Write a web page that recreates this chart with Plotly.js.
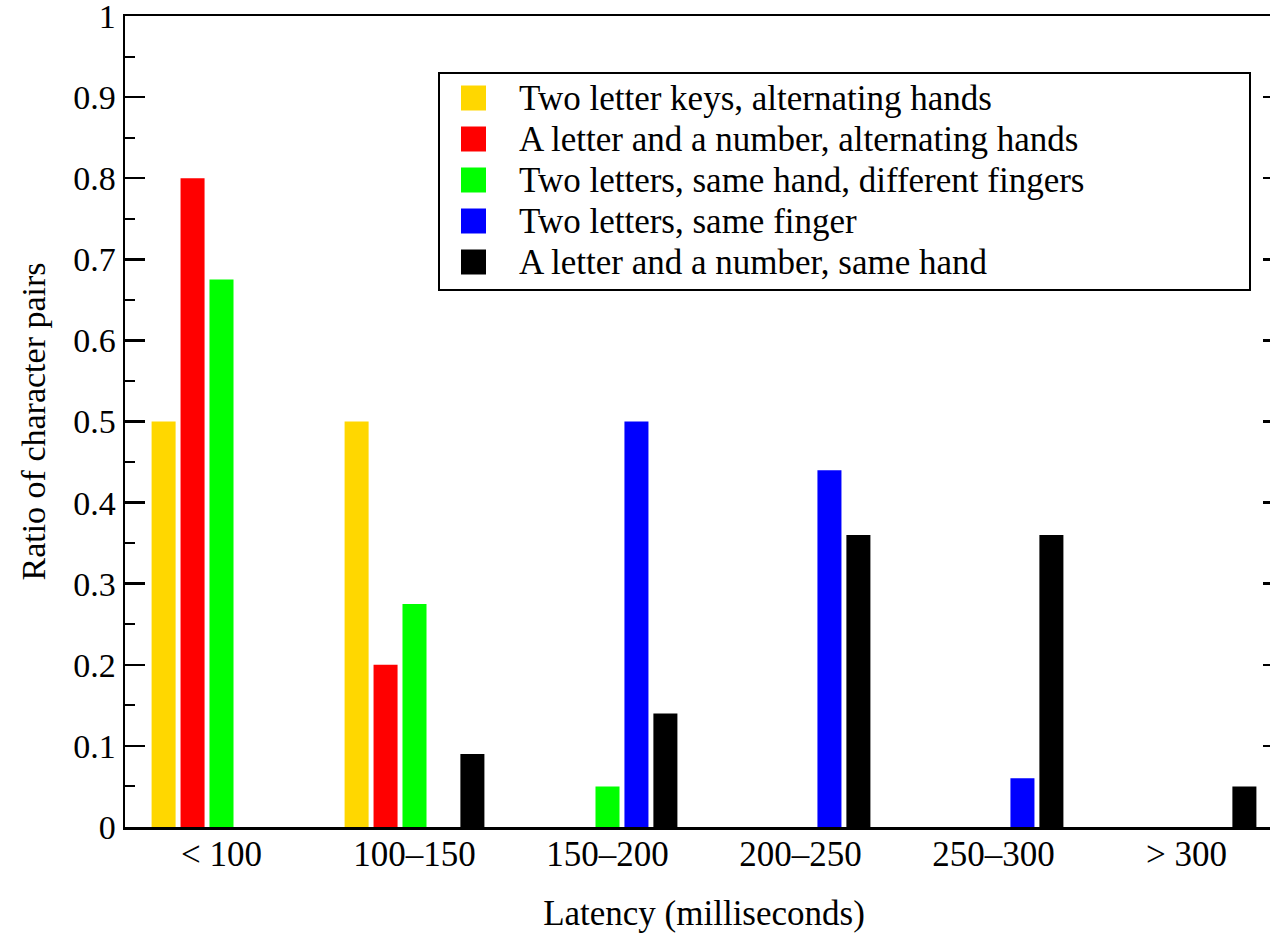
<!DOCTYPE html>
<html><head><meta charset="utf-8">
<script src="https://cdn.plot.ly/plotly-3.0.1.min.js"></script>
<style>html,body{margin:0;padding:0;overflow:hidden;background:#fff;}</style>
</head><body>
<div id="chart"></div>
<script>
const categories = ['< 100', '100–150', '150–200', '200–250', '250–300', '> 300'];
const seriesNames = [
  'Two letter keys, alternating hands',
  'A letter and a number, alternating hands',
  'Two letters, same hand, different fingers',
  'Two letters, same finger',
  'A letter and a number, same hand'
];
const seriesColors = ['#ffd700', '#ff0000', '#00ff00', '#0000ff', '#000000'];
const twoLetterAlt = [0.5, 0.5, 0, 0, 0, 0];
const letterNumberAlt = [0.8, 0.2, 0, 0, 0, 0];
const sameHandDiffFinger = [0.675, 0.275, 0.05, 0, 0, 0];
const sameFinger = [0, 0, 0.5, 0.44, 0.06, 0];
const letterNumberSameHand = [0, 0.09, 0.14, 0.36, 0.36, 0.05];
const seriesValues = [twoLetterAlt, letterNumberAlt, sameHandDiffFinger, sameFinger, letterNumberSameHand];
const yTickVals = [0, 0.1, 0.2, 0.3, 0.4, 0.5, 0.6, 0.7, 0.8, 0.9, 1];

const font = '"Liberation Serif", "Times New Roman", serif';
const W = 1290, H = 937;
const L = 125, R = 1283, T = 16, B = 827;

const traces = seriesValues.map((vals, i) => ({
  type: 'bar', x: categories, y: vals, name: seriesNames[i],
  marker: {color: seriesColors[i], line: {width: 0}},
  showlegend: false
}));

// manual legend (paper coordinates)
const px = x => (x - L) / (R - L);
const py = y => (B - y) / (B - T);
const shapes = [{
  type: 'rect', xref: 'paper', yref: 'paper',
  x0: px(439), x1: px(1250), y0: py(290), y1: py(73),
  line: {color: '#000', width: 2}, fillcolor: '#fff', layer: 'above'
}];
const annotations = [];
seriesNames.forEach((n, i) => {
  const cy = 98 + i * 41;
  shapes.push({
    type: 'rect', xref: 'paper', yref: 'paper',
    x0: px(461), x1: px(486), y0: py(cy + 12.5), y1: py(cy - 12.5),
    line: {width: 0}, fillcolor: seriesColors[i], layer: 'above'
  });
  annotations.push({
    xref: 'paper', yref: 'paper', x: px(517), y: py(cy), xanchor: 'left', yanchor: 'middle',
    text: n, showarrow: false, font: {family: font, size: 35, color: '#000'}
  });
});

const layout = {
  width: W, height: H,
  margin: {l: L, r: W - R, t: T, b: H - B, pad: 0},
  paper_bgcolor: '#fff', plot_bgcolor: '#fff',
  font: {family: font, size: 34, color: '#000'},
  bargap: 0.25, bargroupgap: 0.17, barmode: 'group',
  xaxis: {
    type: 'category', showline: true, linecolor: '#000', linewidth: 2.5, mirror: true,
    ticks: '', showgrid: false, zeroline: false,
    tickfont: {family: font, size: 35}, ticklabelstandoff: -6,
    title: {text: 'Latency (milliseconds)', font: {family: font, size: 35}, standoff: 28}
  },
  yaxis: {
    range: [0, 1], showline: true, linecolor: '#000', linewidth: 2.5, mirror: 'ticks',
    ticks: 'inside', ticklen: 20, tickwidth: 2.5, tickcolor: '#000',
    tickvals: yTickVals, showgrid: false, zeroline: false, ticklabeloverflow: 'allow',
    minor: {dtick: 0.05, ticks: 'inside', ticklen: 10, tickwidth: 2, tickcolor: '#000', showgrid: false},
    tickfont: {family: font, size: 34}, ticklabelstandoff: 0,
    title: {text: 'Ratio of character pairs', font: {family: font, size: 34}, standoff: 18}
  },
  shapes: shapes, annotations: annotations
};
Plotly.newPlot('chart', traces, layout, {displayModeBar: false, staticPlot: true});
</script>
</body></html>
